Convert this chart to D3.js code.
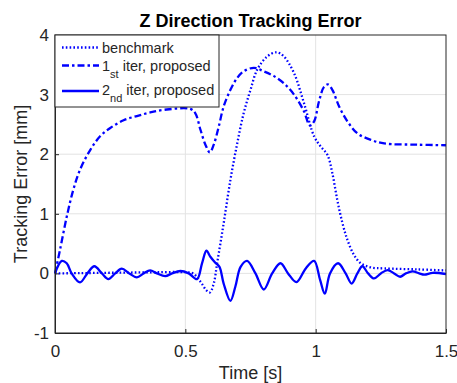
<!DOCTYPE html>
<html>
<head>
<meta charset="utf-8">
<script src="https://cdn.jsdelivr.net/npm/d3@7"></script>
<style>
  body { margin: 0; background: #fff; }
  text { font-family: "Liberation Sans", Arial, sans-serif; fill: #262626; }
</style>
</head>
<body>
<div class="chart"></div>
<script>
(function(){
    // benchmark (dotted)
    const benchT = [0, 0.1, 0.2, 0.3, 0.4, 0.5, 0.53, 0.56, 0.58, 0.594, 0.609, 0.622, 0.647, 0.673, 0.699, 0.724, 0.75, 0.776, 0.814, 0.85, 0.878, 0.917, 0.955, 0.994, 1.019, 1.045, 1.064, 1.083, 1.103, 1.122, 1.147, 1.173, 1.212, 1.263, 1.39, 1.5];
    const benchE = [0, 0.005, 0.01, 0.015, 0.02, 0.02, 0.0, -0.15, -0.28, -0.32, -0.17, 0.17, 0.84, 1.57, 2.18, 2.69, 3.08, 3.42, 3.64, 3.71, 3.64, 3.36, 2.86, 2.3, 2.13, 1.99, 1.68, 1.23, 0.84, 0.56, 0.31, 0.17, 0.10, 0.084, 0.067, 0.05];

    // 1st iter (dash-dot)
    const iter1T = [0, 0.019, 0.045, 0.07, 0.096, 0.135, 0.173, 0.212, 0.263, 0.314, 0.365, 0.429, 0.519, 0.538, 0.558, 0.577, 0.594, 0.609, 0.628, 0.647, 0.673, 0.699, 0.724, 0.763, 0.801, 0.84, 0.878, 0.917, 0.955, 0.978, 0.994, 1.013, 1.032, 1.047, 1.064, 1.09, 1.122, 1.16, 1.212, 1.263, 1.39, 1.5];
    const iter1E = [0, 0.39, 0.95, 1.4, 1.74, 2.07, 2.3, 2.44, 2.57, 2.64, 2.7, 2.75, 2.76, 2.69, 2.41, 2.16, 2.03, 2.16, 2.46, 2.8, 3.08, 3.28, 3.39, 3.45, 3.39, 3.31, 3.19, 3.0, 2.72, 2.48, 2.55, 2.89, 3.13, 3.17, 3.08, 2.8, 2.55, 2.35, 2.24, 2.18, 2.16, 2.15];

    // 2nd iter (solid)
    const iter2T = [0, 0.026, 0.045, 0.064, 0.096, 0.124, 0.151, 0.18, 0.205, 0.231, 0.256, 0.285, 0.314, 0.34, 0.365, 0.391, 0.423, 0.449, 0.481, 0.513, 0.545, 0.564, 0.581, 0.596, 0.615, 0.631, 0.647, 0.673, 0.692, 0.712, 0.737, 0.769, 0.801, 0.833, 0.865, 0.894, 0.926, 0.962, 0.994, 1.017, 1.035, 1.055, 1.086, 1.115, 1.138, 1.16, 1.179, 1.201, 1.224, 1.25, 1.276, 1.301, 1.324, 1.346, 1.372, 1.397, 1.417, 1.449, 1.5];
    const iter2E = [0, 0.21, 0.17, 0, -0.15, 0, 0.12, 0, -0.095, 0, 0.08, 0, -0.067, 0, 0.05, 0, -0.045, 0, 0.04, 0, -0.095, 0.17, 0.38, 0.28, 0.18, 0.11, -0.17, -0.46, -0.22, 0.11, 0.21, 0, -0.27, 0, 0.17, 0, -0.146, 0.084, 0.21, -0.11, -0.34, 0, 0.17, 0, -0.17, 0, 0.12, 0, -0.084, 0, 0.056, 0, -0.056, 0, 0.034, 0, -0.022, 0.01, -0.01];

    const xTicks = [0, 0.5, 1, 1.5];
    const yTicks = [-1, 0, 1, 2, 3, 4];

    const series = [
        { name: 'benchmark', sub: '', rest: '', t: benchT, e: benchE, dash: '1.6,2.2' },
        { name: '1', sub: 'st', rest: ' iter, proposed', t: iter1T, e: iter1E, dash: '7,3,2.5,3' },
        { name: '2', sub: 'nd', rest: ' iter, proposed', t: iter2T, e: iter2E, dash: null }
    ];

    const W = 457, H = 383;
    const margin = { top: 35, right: 11, bottom: 50, left: 55 };
    const cw = W - margin.left - margin.right;
    const ch = H - margin.top - margin.bottom;
    const blue = '#0000ff';

    const svg = d3.select('.chart').append('svg').attr('width', W).attr('height', H);
    const g = svg.append('g').attr('transform', `translate(${margin.left},${margin.top})`);

    const x = d3.scaleLinear().domain([0, 1.5]).range([0, cw]);
    const y = d3.scaleLinear().domain([-1, 4]).range([ch, 0]);

    // grid
    g.append('g').selectAll('line').data(xTicks.slice(1, -1)).enter().append('line')
        .attr('x1', d => x(d)).attr('x2', d => x(d)).attr('y1', 0).attr('y2', ch)
        .style('stroke', '#e3e3e3').style('stroke-width', 1);
    g.append('g').selectAll('line').data(yTicks.slice(1, -1)).enter().append('line')
        .attr('y1', d => y(d)).attr('y2', d => y(d)).attr('x1', 0).attr('x2', cw)
        .style('stroke', '#e3e3e3').style('stroke-width', 1);

    // lines
    const lineGen = d3.line().curve(d3.curveCatmullRom.alpha(0.5))
        .x(d => x(d[0])).y(d => y(d[1]));
    g.append('g').selectAll('path').data(series).enter().append('path')
        .attr('d', d => lineGen(d.t.map((t, i) => [t, d.e[i]])))
        .style('fill', 'none').style('stroke', blue).style('stroke-width', 2.3)
        .style('stroke-dasharray', d => d.dash);

    // box
    g.append('rect').attr('width', cw).attr('height', ch)
        .style('fill', 'none').style('stroke', '#262626').style('stroke-width', 1);

    // axes with inward ticks
    const axisStyle = sel => {
        sel.select('.domain').style('stroke', '#262626');
        sel.selectAll('.tick line').style('stroke', '#262626');
        sel.selectAll('.tick text').style('font-size', '17px').style('fill', '#262626')
            .style('font-family', '"Liberation Sans", Arial, sans-serif');
    };
    g.append('g').attr('transform', `translate(0,${ch})`)
        .call(d3.axisBottom(x).tickValues(xTicks).tickFormat(d => String(d)).tickSizeInner(-4).tickSizeOuter(0).tickPadding(12))
        .call(axisStyle);
    g.append('g')
        .call(d3.axisLeft(y).tickValues(yTicks).tickFormat(d => String(d)).tickSizeInner(-4).tickSizeOuter(0).tickPadding(6))
        .call(axisStyle);

    // legend
    const lg = g.append('g');
    lg.append('rect').attr('x', 0).attr('y', 0).attr('width', 164).attr('height', 72)
        .style('fill', '#fff').style('stroke', '#262626').style('stroke-width', 1);
    const rowLine = [12.5, 30.5, 56];
    const rowText = [18, 35.5, 60];
    const item = lg.selectAll('.item').data(series).enter().append('g').attr('class', 'item');
    item.append('line')
        .attr('x1', 7).attr('x2', 44)
        .attr('y1', (d, i) => rowLine[i]).attr('y2', (d, i) => rowLine[i])
        .style('stroke', blue).style('stroke-width', 2.3)
        .style('stroke-dasharray', d => d.dash);
    const lt = item.append('text')
        .attr('x', 47).attr('y', (d, i) => rowText[i])
        .style('font-size', '14.5px');
    lt.append('tspan').text(d => d.name);
    lt.append('tspan').text(d => d.sub).attr('dy', d => d.sub ? 7 : 0).style('font-size', '11px');
    lt.append('tspan').text(d => d.rest).attr('dy', d => d.sub ? -7 : 0);

    // title + labels
    svg.append('text').attr('x', margin.left + cw / 2).attr('y', 27)
        .attr('text-anchor', 'middle').style('font-size', '18px').style('font-weight', 'bold')
        .style('fill', '#000').text('Z Direction Tracking Error');
    svg.append('text').attr('x', margin.left + cw / 2).attr('y', 379)
        .attr('text-anchor', 'middle').style('font-size', '18px').text('Time [s]');
    svg.append('text')
        .attr('transform', `translate(27,${margin.top + ch / 2}) rotate(-90)`)
        .attr('text-anchor', 'middle').style('font-size', '18px').text('Tracking Error [mm]');
})();
</script>
</body>
</html>
